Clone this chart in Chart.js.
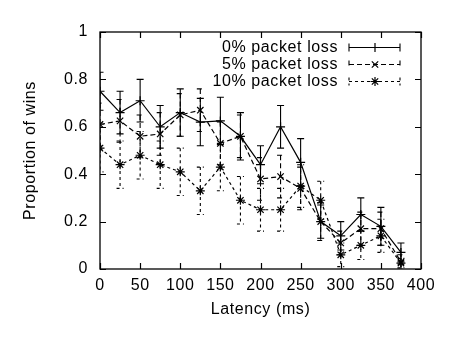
<!DOCTYPE html>
<html>
<head>
<meta charset="utf-8">
<script src="https://cdn.jsdelivr.net/npm/chart.js@4/dist/chart.umd.min.js"></script>
<style>
  body { margin: 0; background: #fff; }
</style>
</head>
<body>
<canvas id="winsChart" width="450" height="338"></canvas>
<script>
const latencies = [0, 25, 50, 75, 100, 125, 150, 175, 200, 225, 250, 275, 300, 325, 350, 375];
const seriesLabels = ["0% packet loss", "5% packet loss", "10% packet loss"];

const wins0 = [0.75, 0.66, 0.71, 0.60, 0.66, 0.62, 0.625, 0.56, 0.44, 0.60, 0.45, 0.20, 0.14, 0.23, 0.18, 0.07];
const err0 = [0.08, 0.09, 0.09, 0.09, 0.10, 0.10, 0.10, 0.10, 0.08, 0.09, 0.10, 0.07, 0.06, 0.07, 0.08, 0.04];

const wins5 = [0.61, 0.625, 0.56, 0.57, 0.65, 0.67, 0.53, 0.56, 0.38, 0.39, 0.34, 0.20, 0.11, 0.17, 0.17, 0.03];
const err5 = [0.09, 0.09, 0.09, 0.09, 0.09, 0.09, 0.09, 0.09, 0.09, 0.09, 0.09, 0.08, 0.05, 0.07, 0.07, 0.03];

const wins10 = [0.51, 0.44, 0.48, 0.44, 0.41, 0.33, 0.43, 0.29, 0.25, 0.25, 0.35, 0.29, 0.06, 0.10, 0.14, 0.025];
const err10 = [0.10, 0.10, 0.10, 0.10, 0.10, 0.10, 0.10, 0.10, 0.09, 0.09, 0.09, 0.08, 0.05, 0.06, 0.07, 0.02];

const xTicks = [0, 50, 100, 150, 200, 250, 300, 350, 400];
const yTicks = [0, 0.2, 0.4, 0.6, 0.8, 1];
const errors = [err0, err5, err10];

const FONT = "16px 'Liberation Sans', Arial, Helvetica, sans-serif";

function points(values) {
  return latencies.map((x, i) => ({ x: x, y: values[i] }));
}

function marker(ctx, style, x, y) {
  ctx.save();
  ctx.setLineDash([]);
  ctx.lineWidth = 1.2;
  ctx.strokeStyle = "#000";
  Chart.helpers.drawPoint(ctx, { pointStyle: style, radius: 4.5, rotation: 0, borderWidth: 1.2 }, x, y);
  ctx.restore();
}

// error bars, box, inward ticks, labels and the key
const gnuplotFrame = {
  id: "gnuplotFrame",
  afterDatasetsDraw(chart) {
    const { ctx, chartArea: a, scales } = chart;
    const xs = scales.x, ys = scales.y;

    ctx.save();
    ctx.beginPath();
    ctx.rect(a.left, a.top, a.right - a.left, a.bottom - a.top);
    ctx.clip();
    chart.data.datasets.forEach((ds, i) => {
      ctx.save();
      ctx.strokeStyle = "#000";
      ctx.lineWidth = 1.1;
      ctx.setLineDash(ds.borderDash || []);
      ds.data.forEach((p, j) => {
        const px = xs.getPixelForValue(p.x);
        const top = ys.getPixelForValue(p.y + errors[i][j]);
        const bot = ys.getPixelForValue(p.y - errors[i][j]);
        ctx.beginPath();
        ctx.moveTo(px, top); ctx.lineTo(px, bot);
        ctx.moveTo(px - 3.5, top); ctx.lineTo(px + 3.5, top);
        ctx.moveTo(px - 3.5, bot); ctx.lineTo(px + 3.5, bot);
        ctx.stroke();
      });
      ctx.restore();
    });
    ctx.restore();

    ctx.save();
    ctx.strokeStyle = "#000";
    ctx.fillStyle = "#000";
    ctx.lineWidth = 1.3;
    ctx.strokeRect(a.left, a.top, a.right - a.left, a.bottom - a.top);

    ctx.lineWidth = 1.2;
    ctx.beginPath();
    xTicks.forEach(v => {
      const px = Math.round(xs.getPixelForValue(v)) + 0.5;
      ctx.moveTo(px, a.bottom); ctx.lineTo(px, a.bottom - 6);
      ctx.moveTo(px, a.top); ctx.lineTo(px, a.top + 6);
    });
    yTicks.forEach(v => {
      const py = Math.round(ys.getPixelForValue(v)) + 0.5;
      ctx.moveTo(a.left, py); ctx.lineTo(a.left + 6, py);
      ctx.moveTo(a.right, py); ctx.lineTo(a.right - 6, py);
    });
    ctx.stroke();

    ctx.font = FONT;
    ctx.letterSpacing = "0.6px";
    ctx.textAlign = "center";
    ctx.textBaseline = "middle";
    xTicks.forEach(v => ctx.fillText(String(v), xs.getPixelForValue(v), a.bottom + 17));
    ctx.textAlign = "right";
    yTicks.forEach(v => ctx.fillText(String(v), a.left - 12, ys.getPixelForValue(v)));

    ctx.textAlign = "center";
    ctx.fillText("Latency (ms)", (a.left + a.right) / 2, a.bottom + 41);
    ctx.save();
    ctx.translate(31, (a.top + a.bottom) / 2);
    ctx.rotate(-Math.PI / 2);
    ctx.fillText("Proportion of wins", 0, 0);
    ctx.restore();

    // key in the upper right
    chart.data.datasets.forEach((ds, i) => {
      const ky = 47.5 + i * 17;
      ctx.textAlign = "right";
      ctx.fillText(ds.label, 338, ky);
      ctx.save();
      ctx.lineWidth = 1.1;
      ctx.setLineDash(ds.borderDash || []);
      ctx.beginPath();
      ctx.moveTo(349, ky); ctx.lineTo(400, ky);
      ctx.moveTo(349, ky - 4); ctx.lineTo(349, ky + 4);
      ctx.moveTo(400, ky - 4); ctx.lineTo(400, ky + 4);
      ctx.stroke();
      ctx.restore();
      marker(ctx, ds.pointStyle, 375, ky);
    });
    ctx.restore();
  }
};

const lineDefaults = {
  borderColor: "#000",
  backgroundColor: "#000",
  borderWidth: 1.2,
  pointRadius: 4.5,
  pointBorderWidth: 1.2,
  pointBorderColor: "#000",
  tension: 0,
  fill: false
};

new Chart(document.getElementById("winsChart"), {
  type: "line",
  data: {
    datasets: [
      { ...lineDefaults, label: seriesLabels[0], data: points(wins0), pointStyle: "cross", borderDash: [] },
      { ...lineDefaults, label: seriesLabels[1], data: points(wins5), pointStyle: "crossRot", borderDash: [5, 3] },
      { ...lineDefaults, label: seriesLabels[2], data: points(wins10), pointStyle: "star", borderDash: [3, 3] }
    ]
  },
  options: {
    responsive: false,
    animation: false,
    devicePixelRatio: 1,
    layout: { padding: { left: 100, right: 29, top: 32, bottom: 69 } },
    plugins: { legend: { display: false }, tooltip: { enabled: false } },
    scales: {
      x: { type: "linear", min: 0, max: 400, display: false },
      y: { type: "linear", min: 0, max: 1, display: false }
    }
  },
  plugins: [gnuplotFrame]
});
</script>
</body>
</html>
